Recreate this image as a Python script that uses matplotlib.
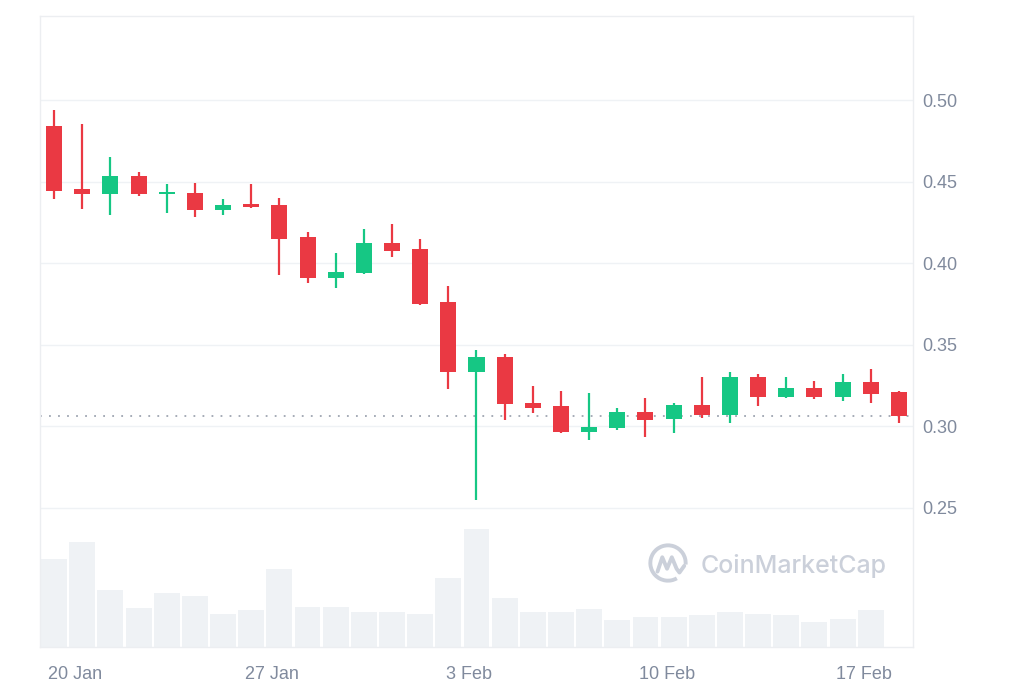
import numpy as np
import matplotlib.pyplot as plt
from matplotlib.patches import Arc

plt.rcParams['font.family'] = ['Liberation Sans', 'DejaVu Sans']

# daily candles, 31 days
opens = [0.484, 0.4453, 0.4422, 0.4534, 0.4422, 0.4430, 0.4328, 0.4359, 0.4357, 0.4159, 0.3907,
         0.3942, 0.4126, 0.4085, 0.3760, 0.3333, 0.3425, 0.3145, 0.3123, 0.2968, 0.2988,
         0.3090, 0.3044, 0.3133, 0.3072, 0.3301, 0.3178, 0.3238, 0.3178, 0.3270, 0.3209]
highs = [0.494, 0.4851, 0.4649, 0.4559, 0.4483, 0.4493, 0.4392, 0.4483, 0.4400, 0.4189, 0.4064,
         0.4210, 0.4240, 0.4146, 0.3862, 0.3466, 0.3446, 0.3249, 0.3217, 0.3207, 0.3111,
         0.3174, 0.3145, 0.3301, 0.3333, 0.3323, 0.3303, 0.3280, 0.3321, 0.3354, 0.3217]
lows = [0.4392, 0.4330, 0.4297, 0.4412, 0.4306, 0.4285, 0.4295, 0.4338, 0.3930, 0.3877, 0.3846,
        0.3935, 0.4036, 0.3743, 0.3229, 0.2549, 0.3041, 0.3080, 0.2958, 0.2917, 0.2978,
        0.2937, 0.2958, 0.3053, 0.3019, 0.3125, 0.3175, 0.3166, 0.3157, 0.3145, 0.3019]
closes = [0.4444, 0.4422, 0.4534, 0.4422, 0.4428, 0.4328, 0.4357, 0.4347, 0.4148, 0.3907, 0.3948,
          0.4126, 0.4077, 0.3752, 0.3333, 0.3425, 0.3135, 0.3115, 0.2968, 0.2996, 0.3090,
          0.3041, 0.3133, 0.3072, 0.3301, 0.3178, 0.3238, 0.3178, 0.3270, 0.3199, 0.3064]
# volume (relative units), last day has no bar yet
volumes = [87.7, 105, 57.4, 38.7, 54, 50.7, 33.4, 36.7, 77.7, 40, 40, 35.4, 35.4, 33.4, 69.4,
           118.4, 49, 35, 35, 38.4, 26.7, 30, 30, 31.7, 35, 33.4, 31.7, 25, 28.4, 36.7]
tick_idx = [0, 7, 14, 21, 28]
tick_labels = ["20 Jan", "27 Jan", "3 Feb", "10 Feb", "17 Feb"]
price_ticks = [0.25, 0.30, 0.35, 0.40, 0.45, 0.50]
last_price = 0.3064

red = "#ea3943"
green = "#16c784"
grey_txt = "#808a9d"
frame = "#eceef1"

o = np.array(opens)
c = np.array(closes)
x = np.arange(len(o))
cols = [green if cc >= oo else red for oo, cc in zip(o, c)]

W, H = 1024, 683
fig = plt.figure(figsize=(W/100, H/100), dpi=100)
rect = [40/W, 1-647/H, 873/W, 631/H]

# volume underneath
axv = fig.add_axes(rect)
axv.bar(x[:len(volumes)], volumes, width=0.92, color="#eff2f5", zorder=1)
axv.set_ylim(0, 631)
axv.set_xlim(-0.5, 30.5)
axv.axis("off")

ax = fig.add_axes(rect)
ax.patch.set_alpha(0)
ax.set_xlim(-0.5, 30.5)
ax.set_ylim(0.1648, 0.5515)

for t in price_ticks:
    ax.axhline(t, color="#eff2f5", lw=1, zorder=0)

ax.vlines(x, lows, highs, colors=cols, lw=1.6, zorder=3)
body = np.maximum(np.abs(c - o), 0.0015)
ax.bar(x, body, bottom=np.minimum(o, c), width=0.57, color=cols, zorder=4)

ax.axhline(last_price, color="#9ea5b1", lw=1.3, ls=(0, (1, 4)), zorder=2)

ax.yaxis.tick_right()
ax.set_yticks(price_ticks)
ax.set_yticklabels([f"{t:.2f}" for t in price_ticks])
ax.set_xticks([i + 0.75 for i in tick_idx])
ax.set_xticklabels(tick_labels)
ax.tick_params(axis="y", length=0, pad=7, labelsize=13, labelcolor=grey_txt)
ax.tick_params(axis="x", length=0, pad=14, labelsize=13, labelcolor=grey_txt)
for s in ax.spines.values():
    s.set_color(frame)
    s.set_linewidth(1)

# watermark
wm = "#cbd0da"
axl = fig.add_axes([647/W, 1-584/H, 42/W, 42/H])
axl.set_xlim(-1.1, 1.1)
axl.set_ylim(-1.1, 1.1)
axl.axis("off")
axl.add_patch(Arc((0, 0), 1.85, 1.85, theta1=-5, theta2=300, color=wm, lw=2.8))
axl.plot([-0.55, -0.3, -0.05, 0.2, 0.45, 0.6, 0.85],
         [-0.45, 0.3, -0.3, 0.3, -0.3, -0.5, -0.15], color=wm, lw=2.8,
         solid_capstyle="round", solid_joinstyle="round")
fig.text(701/W, 1-566/H, "CoinMarketCap", color=wm, fontsize=18,
         family=["Inter", "DejaVu Sans"], fontweight="medium", va="center", ha="left")

fig.savefig("out.png", dpi=100)
